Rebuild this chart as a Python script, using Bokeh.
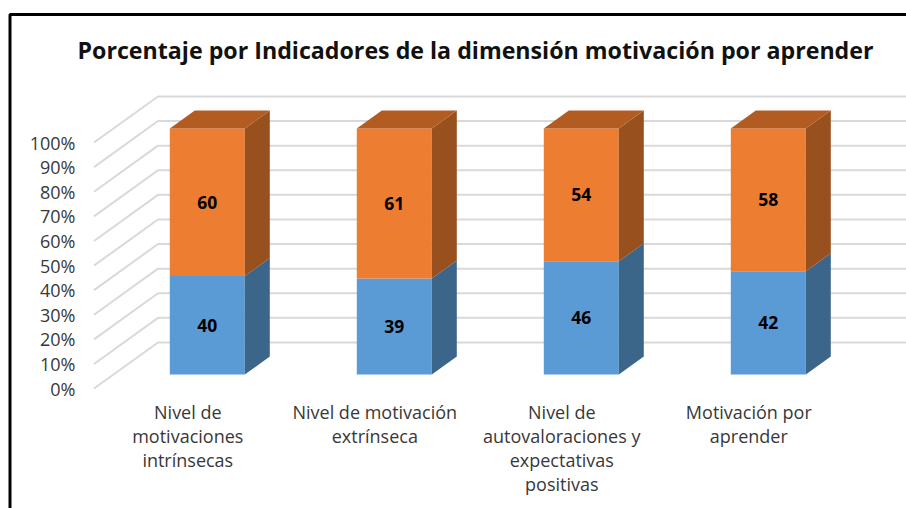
from bokeh.plotting import figure
from bokeh.models import Range1d, LinearAxis, FixedTicker
from bokeh.embed import file_html
from bokeh.resources import INLINE
from bokeh.core.properties import value

title_text = "Porcentaje por Indicadores de la dimensión motivación por aprender"
categories = ["Nivel de\nmotivaciones\nintrínsecas",
              "Nivel de motivación\nextrínseca",
              "Nivel de\nautovaloraciones y\nexpectativas\npositivas",
              "Motivación por\naprender"]
series_blue = [40, 39, 46, 42]
series_orange = [60, 61, 54, 58]
y_ticks = [0, 10, 20, 30, 40, 50, 60, 70, 80, 90, 100]

BLUE, BLUE_SIDE = "#5B9BD5", "#3B6689"
ORANGE, ORANGE_SIDE, ORANGE_TOP = "#ED7D31", "#98511E", "#B25C22"
GRID = "#D9D9D9"
FONT = "Open Sans"

# canvas scale: pixels per data unit, and bar plane origin in page pixels
W, H = 906, 508
PX_X, PX_Y = 187.0, 2.46
X0, Y0 = 206.8, 374.0
def xd(px): return (px - X0) / PX_X
def yd(px): return (Y0 - px) / PX_Y

# oblique projection: z=0 bar front, z=1 bar back
DX, DY = 25 / PX_X, 18 / PX_Y
Z_FRONT, Z_WALL = -0.78, 1.78
def proj(x, v, z): return x + z * DX, v + z * DY

x_range = Range1d(xd(0), xd(W))
y_range = Range1d(yd(H), yd(0))
p = figure(width=W, height=H, x_range=x_range, y_range=y_range, output_backend="svg",
           toolbar_location=None, min_border=0, x_axis_type=None, y_axis_type=None,
           outline_line_color=None, background_fill_color="white")
p.grid.visible = False

# shifted ranges carrying the axes on the front plane
sx, sy = proj(0, 0, Z_FRONT)
p.extra_x_ranges["front"] = Range1d(x_range.start - sx, x_range.end - sx)
p.extra_y_ranges["front"] = Range1d(y_range.start - sy, y_range.end - sy)

# gridlines
x_left = xd(113)
x_right = x_range.end + 1
for t in y_ticks:
    x_a, y_a = proj(x_left, t, Z_FRONT)
    x_b, y_b = proj(x_left, t, Z_WALL)
    x_c, y_c = proj(x_right, t, Z_WALL)
    p.line([x_a, x_b, x_c], [y_a, y_b, y_c], line_color=GRID, line_width=2)

# bars
BAR_W = 75 / PX_X
def poly(corners):
    return [c[0] for c in corners], [c[1] for c in corners]
def draw_segment(i, lo, hi, front, side):
    l, r = i - BAR_W / 2, i + BAR_W / 2
    xs, ys = poly([(l, lo), (r, lo), (r, hi), (l, hi)])
    p.patch(xs, ys, fill_color=front, line_color=None)
    xs, ys = poly([proj(r, lo, 0), proj(r, lo, 1), proj(r, hi, 1), proj(r, hi, 0)])
    p.patch(xs, ys, fill_color=side, line_color=None)

for i, (b, o) in enumerate(zip(series_blue, series_orange)):
    draw_segment(i, 0, b, BLUE, BLUE_SIDE)
    draw_segment(i, b, b + o, ORANGE, ORANGE_SIDE)
    l, r = i - BAR_W / 2, i + BAR_W / 2
    top = b + o
    xs, ys = poly([proj(l, top, 0), proj(r, top, 0), proj(r, top, 1), proj(l, top, 1)])
    p.patch(xs, ys, fill_color=ORANGE_TOP, line_color=None)

# data labels
idx = list(range(len(categories)))
p.text(idx, [b / 2 for b in series_blue], text=[str(b) for b in series_blue],
       text_align="center", text_baseline="middle", text_font=value(FONT),
       text_font_style="bold", text_font_size="17.5px", text_color="#000000")
p.text(idx, [b + o / 2 for b, o in zip(series_blue, series_orange)],
       text=[str(o) for o in series_orange],
       text_align="center", text_baseline="middle", text_font=value(FONT),
       text_font_style="bold", text_font_size="17.5px", text_color="#000000")

# black frame, running off the page on the right and at the bottom
p.line([xd(9.5), xd(9.5), x_range.end + 1], [y_range.start - 1, yd(14), yd(14)],
       line_color="#000000", line_width=3)

# title
p.text([xd(475)], [yd(49)], text=[title_text], text_align="center", text_baseline="middle",
       text_font=value(FONT), text_font_style="bold", text_font_size="23.2px", text_color="#111111")

# axes inside the plot area
yax = LinearAxis(y_range_name="front", ticker=FixedTicker(ticks=y_ticks),
                 major_label_overrides={t: f"{t}%" for t in y_ticks},
                 fixed_location=xd(84), axis_line_color=None,
                 major_tick_line_color=None, minor_tick_line_color=None,
                 major_label_standoff=3, major_label_text_font=FONT,
                 major_label_text_font_size="18px", major_label_text_color="#383838")
p.add_layout(yax, "left")

xax = LinearAxis(x_range_name="front", ticker=FixedTicker(ticks=idx),
                 major_label_overrides={i: c for i, c in enumerate(categories)},
                 fixed_location=yd(391), axis_line_color=None,
                 major_tick_line_color=None, minor_tick_line_color=None,
                 major_label_standoff=2, major_label_text_font=FONT,
                 major_label_text_font_size="18px", major_label_text_color="#383838",
                 major_label_text_line_height=1.0, major_label_orientation="horizontal")
p.add_layout(xax, "below")

open("out.html", "w").write(file_html(p, INLINE))
